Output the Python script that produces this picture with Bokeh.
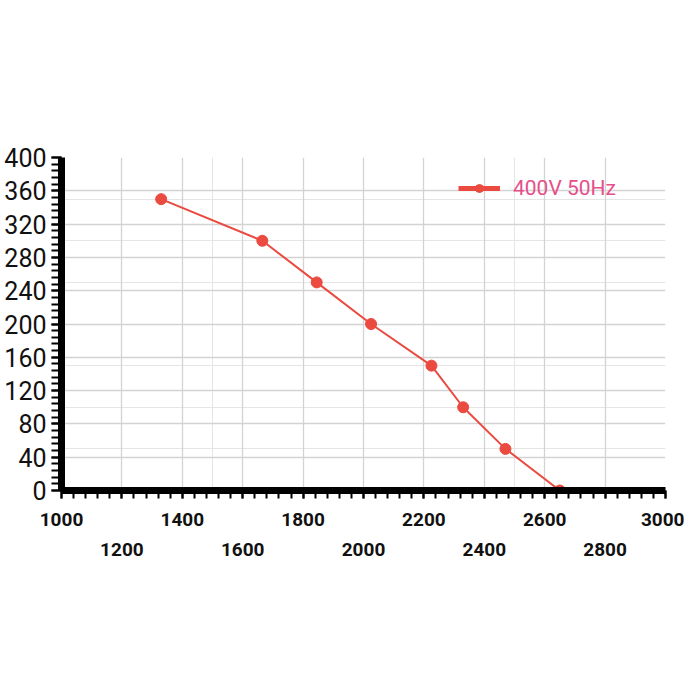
import math
from bokeh.plotting import figure
from bokeh.models import (LinearAxis, SingleIntervalTicker, FixedTicker, Range1d,
                          Legend, LegendItem, Grid)
from bokeh.embed import file_html
from bokeh.resources import INLINE

# data
airflow = [1330, 1665, 1845, 2025, 2225, 2330, 2470, 2650]
pressure = [350, 300, 250, 200, 150, 100, 50, 0]
series_name = "400V 50Hz"
x_row1_ticks = [1000, 1400, 1800, 2200, 2600, 3000]
x_row2_ticks = [1200, 1600, 2000, 2400, 2800]

FONT = "Roboto"
RED = "#ea4a3f"

p = figure(width=684, height=684, output_backend="svg", toolbar_location=None,
           x_range=Range1d(1000, 3000), y_range=Range1d(0, 400),
           x_axis_location=None, y_axis_location=None,
           min_border_left=61, min_border_right=19, min_border_top=157,
           min_border_bottom=194)
p.outline_line_color = None
p.background_fill_color = "white"
p.border_fill_color = "white"

# y axis
yax = LinearAxis(ticker=SingleIntervalTicker(interval=40, num_minor_ticks=5))
yax.axis_line_width = 7
yax.axis_line_color = "black"
yax.major_tick_line_width = 2
yax.minor_tick_line_width = 2
yax.major_tick_out = 10
yax.major_tick_in = 0
yax.minor_tick_out = 10
yax.minor_tick_in = 0
yax.major_label_text_font = FONT
yax.major_label_text_font_size = "25px"
yax.major_label_text_color = "#111111"
yax.major_label_standoff = 5
p.add_layout(yax, "left")

# x axis row 1
xax = LinearAxis(ticker=SingleIntervalTicker(interval=200, num_minor_ticks=5))
xax.axis_line_width = 7
xax.axis_line_color = "black"
xax.major_tick_line_width = 2
xax.minor_tick_line_width = 2
xax.major_tick_out = 8
xax.major_tick_in = 0
xax.minor_tick_out = 8
xax.minor_tick_in = 0
xax.major_label_text_font = FONT
xax.major_label_text_font_size = "19px"
xax.major_label_text_font_style = "bold"
xax.major_label_text_color = "#111111"
xax.major_label_standoff = 14
xax.major_label_overrides = {t: "" for t in x_row2_ticks}
p.add_layout(xax, "below")

# x axis row 2 (staggered labels)
xax2 = LinearAxis(ticker=FixedTicker(ticks=x_row2_ticks))
xax2.axis_line_color = None
xax2.major_tick_line_color = None
xax2.minor_tick_line_color = None
xax2.major_tick_out = 0
xax2.major_tick_in = 0
xax2.major_label_text_font = FONT
xax2.major_label_text_font_size = "19px"
xax2.major_label_text_font_style = "bold"
xax2.major_label_text_color = "#111111"
xax2.major_label_standoff = 14
p.add_layout(xax2, "below")

p.add_layout(Grid(dimension=0, ticker=SingleIntervalTicker(interval=200),
                  grid_line_color="#d3d3d3", grid_line_width=1.3))
p.add_layout(Grid(dimension=1, ticker=SingleIntervalTicker(interval=40),
                  grid_line_color="#d3d3d3", grid_line_width=1.3))

ln = p.line(airflow, pressure, line_color=RED, line_width=2)
pts = p.scatter(airflow, pressure, size=11, fill_color=RED, line_color=RED)

leg_line = p.line([math.nan], [math.nan], line_color=RED, line_width=5)
leg_pt = p.scatter([math.nan], [math.nan], size=8, fill_color=RED, line_color=RED)

legend = Legend(items=[LegendItem(label=series_name, renderers=[leg_line, leg_pt])],
                location=(397, 290), padding=0, margin=0,
                border_line_color=None, background_fill_alpha=0,
                glyph_width=42, glyph_height=20, label_height=20,
                label_standoff=13, label_text_font=FONT,
                label_text_font_size="21px", label_text_color="#e5508a")
p.add_layout(legend, "center")

open("out.html", "w").write(file_html(p, INLINE))
